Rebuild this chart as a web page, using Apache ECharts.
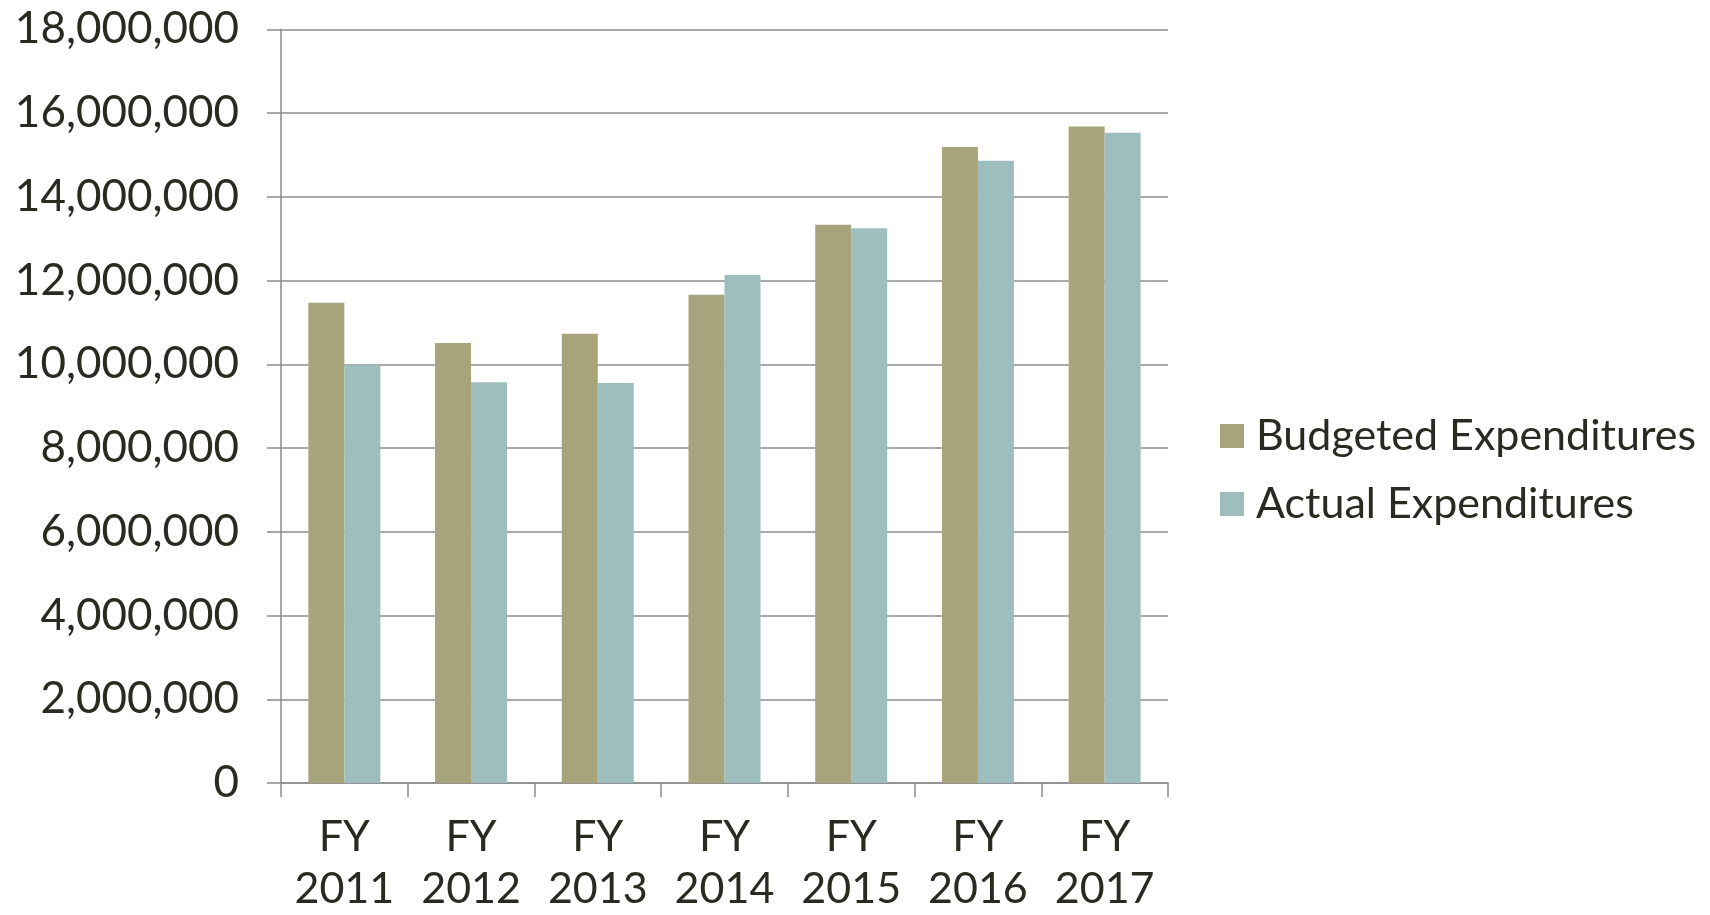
<!DOCTYPE html>
<html><head><meta charset="utf-8">
<script src="https://cdn.jsdelivr.net/npm/echarts@6/dist/echarts.min.js"></script>
<style>html,body{margin:0;padding:0;background:#fff}#c{width:1710px;height:915px}</style>
</head><body><div id="c"></div>
<script>
const categories = ['FY\n2011','FY\n2012','FY\n2013','FY\n2014','FY\n2015','FY\n2016','FY\n2017'];
const budgeted = [11470000, 10510000, 10730000, 11660000, 13330000, 15190000, 15680000];
const actual = [9990000, 9570000, 9550000, 12130000, 13250000, 14860000, 15530000];
const seriesNames = ['Budgeted Expenditures', 'Actual Expenditures'];
const yMax = 18000000, yInterval = 2000000;

const txt = '#2b2a22', grid = '#8c8c8c', font = 'Lato';
const chart = echarts.init(document.getElementById('c'), null, {renderer: 'canvas'});
chart.setOption({
  backgroundColor: '#fff',
  animation: false,
  textStyle: {fontFamily: font},
  grid: {left: 281, right: 542, top: 29.3, bottom: 124.3, containLabel: false},
  legend: {
    orient: 'vertical', left: 1215, top: 408,
    itemWidth: 24, itemHeight: 24, itemGap: 22, icon: 'rect',
    textStyle: {fontFamily: font, fontSize: 43, color: txt, lineHeight: 46, padding: [0,0,0,7]},
    data: seriesNames
  },
  xAxis: {
    type: 'category', data: categories,
    axisLine: {lineStyle: {color: grid, width: 1.5}},
    axisTick: {show: true, length: 14, lineStyle: {color: grid, width: 1.5}},
    axisLabel: {color: txt, fontSize: 43, fontFamily: font, lineHeight: 52, margin: 28, interval: 0}
  },
  yAxis: {
    type: 'value', min: 0, max: yMax, interval: yInterval,
    axisLine: {show: true, lineStyle: {color: grid, width: 1.5}},
    axisTick: {show: true, length: 14, lineStyle: {color: grid, width: 1.5}},
    splitLine: {lineStyle: {color: grid, width: 1.5}},
    axisLabel: {color: txt, fontSize: 44, fontFamily: font, margin: 42,
      formatter: v => v.toLocaleString('en-US')}
  },
  series: [
    {name: seriesNames[0], type: 'bar', data: budgeted, barWidth: 36, barGap: '0%',
     itemStyle: {color: '#a7a37a'}},
    {name: seriesNames[1], type: 'bar', data: actual, barWidth: 36, barGap: '0%',
     itemStyle: {color: '#9ebebd'}}
  ]
});
</script></body></html>
